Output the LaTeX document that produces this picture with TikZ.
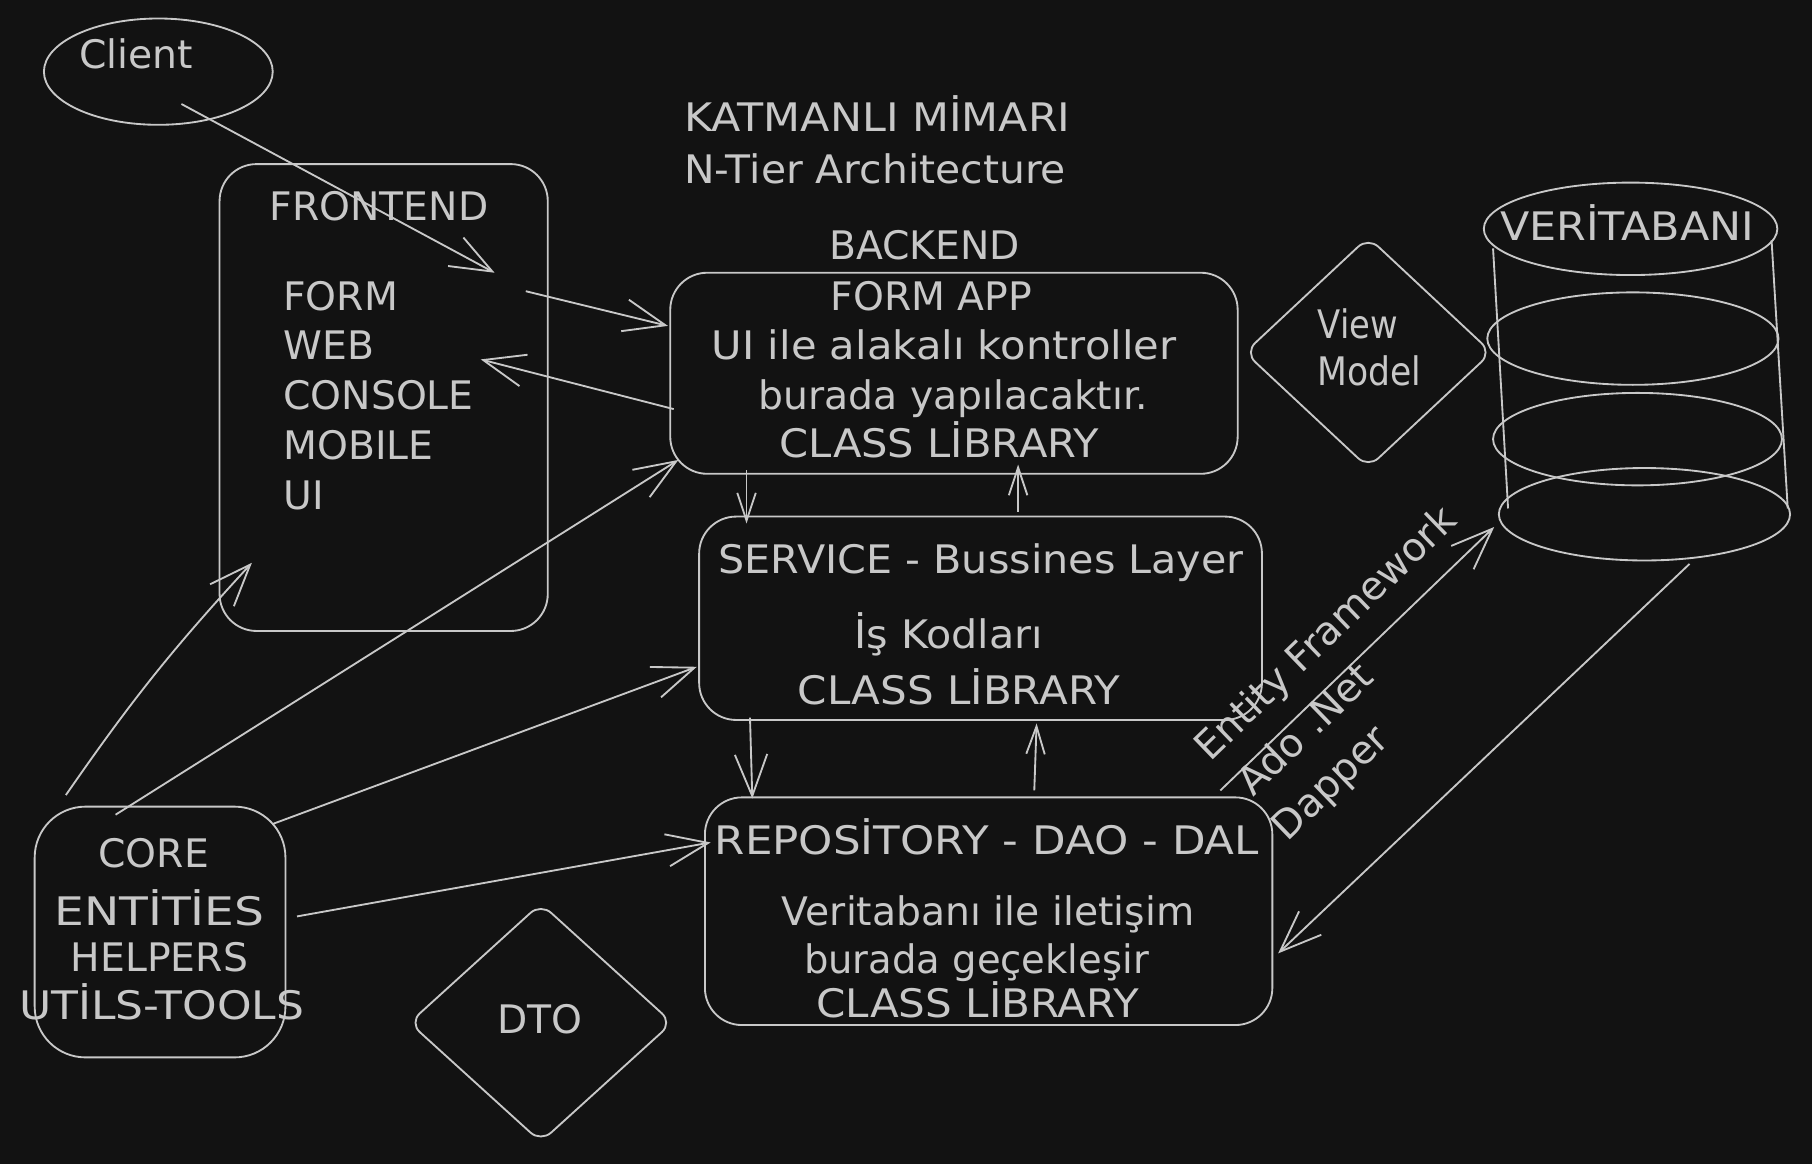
\documentclass[tikz,border=0pt]{standalone}
\usepackage{fontspec}
\setmainfont{DejaVu Sans}
\usetikzlibrary{arrows.meta,shapes.geometric}
\definecolor{bgc}{HTML}{121212}
\definecolor{ink}{RGB}{200,200,200}
\tikzset{
  sk/.style={draw=ink,line width=1.6pt},
  box/.style={sk,rectangle,rounded corners=32pt,inner sep=0pt},
  txt/.style={text=ink,font=\fontsize{34}{40}\selectfont,inner sep=0pt,text height=25pt,text depth=0pt},
  rtxt/.style={text=ink,font=\fontsize{34}{48}\selectfont,inner sep=0pt,align=left},
  conn/.style={draw=ink,line width=1.6pt,-{Straight Barb[length=36pt,width=28pt]}},
  shortconn/.style={draw=ink,line width=1.6pt,-{Straight Barb[length=24pt,width=16pt]}},
}
\begin{document}
\begin{tikzpicture}[x=1pt,y=-1pt]
\fill[bgc] (0,0) rectangle (1568,1007);
\useasboundingbox (0,0) rectangle (1568,1007);

% ---------- shapes ----------
\node[sk,ellipse,minimum width=198pt,minimum height=92pt,inner sep=0pt] (client) at (137,62) {};
\node[box,minimum width=284pt,minimum height=404pt] (fe) at (332,344) {};
\node[box,minimum width=491pt,minimum height=174pt] (fa) at (825.5,323) {};
\node[box,minimum width=487pt,minimum height=176pt] (svc) at (848.5,535) {};
\node[box,minimum width=491pt,minimum height=197pt] (repo) at (855.5,788.5) {};
\node[box,rounded corners=44pt,minimum width=217pt,minimum height=217pt] (core) at (138.5,806.5) {};
\node[sk,diamond,rounded corners=12pt,minimum width=214pt,minimum height=200pt,inner sep=0pt] (vm) at (1184,305) {};
\node[sk,diamond,rounded corners=12pt,minimum width=228pt,minimum height=207pt,inner sep=0pt] (dto) at (468,885) {};

% database cylinder
\draw[sk] (1411,198) ellipse [x radius=127pt, y radius=40pt];
\draw[sk] (1413,293) ellipse [x radius=126pt, y radius=40pt];
\draw[sk] (1417,380) ellipse [x radius=125pt, y radius=40pt];
\draw[sk] (1423,445) ellipse [x radius=126pt, y radius=40pt];
\draw[sk] (1292,215) -- (1305,440);
\draw[sk] (1533,208) -- (1547,440);

% ---------- texts ----------
\node[txt] (tclient) at (118,47) {Client};
\node[txt,anchor=west,xscale=1.09] (ttitle1) at (592,101) {KATMANLI MİMARI};
\node[txt,anchor=west,xscale=1.04] (ttitle2) at (592,146) {N-Tier Architecture};

\node[txt] (tfe) at (328,178) {FRONTEND};
\node[txt,anchor=west] (tfe1) at (245,256) {FORM};
\node[txt,anchor=west] (tfe2) at (245,299) {WEB};
\node[txt,anchor=west] (tfe3) at (245,342) {CONSOLE};
\node[txt,anchor=west] (tfe4) at (245,385) {MOBILE};
\node[txt,anchor=west] (tfe5) at (245,428) {UI};

\node[txt] (tbe) at (800,212) {BACKEND};
\node[txt] (tfa1) at (806,256) {FORM APP};
\node[txt,xscale=1.06] (tfa2) at (817,299) {UI ile alakalı kontroller};
\node[txt] (tfa3) at (825,342) {burada yapılacaktır.};
\node[txt,xscale=1.06] (tfa4) at (813,383) {CLASS LİBRARY};

\node[txt,anchor=west,xscale=0.86] (tvm1) at (1140,280) {View};
\node[txt,anchor=west,xscale=0.88] (tvm2) at (1140,321) {Model};

\node[txt,xscale=1.09] (tdb) at (1408,196) {VERİTABANI};

\node[txt,xscale=1.05] (tsvc1) at (849,484) {SERVICE - Bussines Layer};
\node[txt,xscale=1.05] (tsvc2) at (821,549) {İş Kodları};
\node[txt,xscale=1.07] (tsvc3) at (830,597) {CLASS LİBRARY};

\node[txt,xscale=1.11] (trepo1) at (854,727) {REPOSİTORY - DAO - DAL};
\node[txt] (trepo2) at (855,788) {Veritabanı ile iletişim};
\node[txt,xscale=0.98] (trepo3) at (845,830) {burada geçekleşir};
\node[txt,xscale=1.07] (trepo4) at (846,868) {CLASS LİBRARY};

\node[txt] (tcore1) at (133,738) {CORE};
\node[txt,xscale=1.2] (tcore2) at (138,788) {ENTİTİES};
\node[txt] (tcore3) at (138,828) {HELPERS};
\node[txt,xscale=1.12] (tcore4) at (140,870) {UTİLS-TOOLS};

\node[txt] (tdto) at (467,882) {DTO};

\node[rtxt,anchor=base west,rotate=44] (torm) at (1114,729)
  {Entity Framework\\\hspace*{6pt}Ado .Net\\Dapper};

% ---------- connector end points ----------
\coordinate (c1s) at (157,90);   \coordinate (c1e) at (428,236);
\coordinate (c2s) at (455,252);  \coordinate (c2e) at (578,282);
\coordinate (c3s) at (583,354);  \coordinate (c3e) at (416,311);
\coordinate (c4s) at (646,407);  \coordinate (c4e) at (646,453);
\coordinate (c5s) at (881,443);  \coordinate (c5e) at (881,402);
\coordinate (c6s) at (649,621);  \coordinate (c6e) at (651,691);
\coordinate (c7s) at (895,684);  \coordinate (c7e) at (897,626);
\coordinate (c8s) at (57,688);   \coordinate (c8e) at (218,487);
\coordinate (c9s) at (100,705);  \coordinate (c9e) at (587,398);
\coordinate (c10s) at (236,713); \coordinate (c10e) at (603,577);
\coordinate (c11s) at (257,793); \coordinate (c11e) at (615,729);
\coordinate (c12s) at (1056,684);\coordinate (c12e) at (1293,456);
\coordinate (c13s) at (1462,488);\coordinate (c13e) at (1106,825);

% ---------- connectors ----------
\draw[conn] (c1s) -- (c1e);
\draw[conn] (c2s) -- (c2e);
\draw[conn] (c3s) -- (c3e);
\draw[shortconn] (c4s) -- (c4e);
\draw[shortconn] (c5s) -- (c5e);
\draw[conn] (c6s) -- (c6e);
\draw[shortconn] (c7s) -- (c7e);
\draw[conn] (c8s) to[bend left=4] (c8e);
\draw[conn] (c9s) -- (c9e);
\draw[conn] (c10s) -- (c10e);
\draw[conn] (c11s) -- (c11e);
\draw[conn] (c12s) -- (c12e);
\draw[conn] (c13s) -- (c13e);
\end{tikzpicture}
\end{document}
